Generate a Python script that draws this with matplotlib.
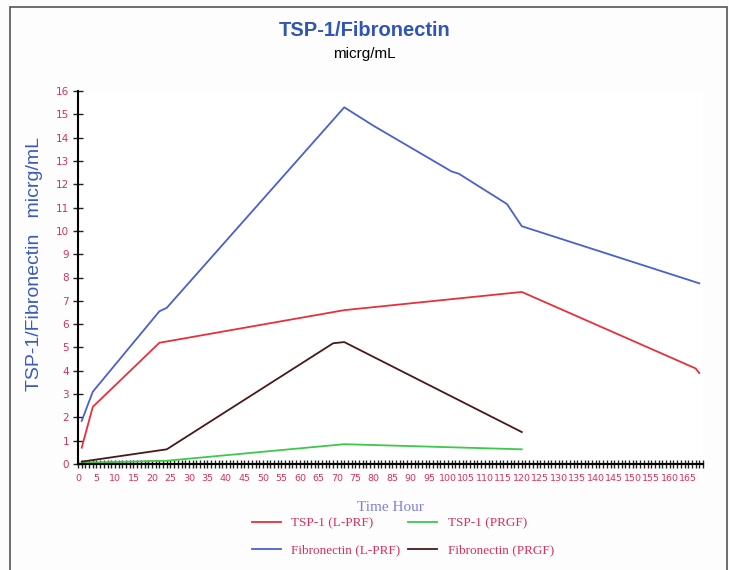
import matplotlib.pyplot as plt
from matplotlib.patches import Rectangle
from matplotlib.ticker import MultipleLocator

# Data (hours, micrg/mL)
hours_fib_lprf = [1, 4, 22, 24, 72, 80, 101, 103, 116, 120, 168]
fib_lprf = [1.85, 3.1, 6.55, 6.7, 15.3, 14.5, 12.55, 12.45, 11.15, 10.2, 7.75]

hours_tsp_lprf = [1, 4, 22, 72, 120, 167, 168]
tsp_lprf = [0.7, 2.45, 5.2, 6.6, 7.38, 4.1, 3.9]

hours_fib_prgf = [1, 24, 69, 72, 120]
fib_prgf = [0.1, 0.63, 5.18, 5.23, 1.37]

hours_tsp_prgf = [1, 24, 72, 120]
tsp_prgf = [0.05, 0.14, 0.85, 0.63]

red = '#e8303a'
blue = '#4a5fd0'
green = '#3cc94a'
brown = '#4a1818'
pink = '#d9305a'

fig = plt.figure(figsize=(7.29, 5.70), dpi=100)
fig.patches.append(Rectangle((10 / 729, -0.01), 717 / 729, 1 - 7 / 570 + 0.01,
                             transform=fig.transFigure, fill=False,
                             edgecolor='#555555', linewidth=1.2))

ax = fig.add_axes([78 / 729, 1 - 464 / 570, 625 / 729, 373 / 570])
# plot order chosen so the 2-column legend reads row by row like the original
ax.plot(hours_tsp_lprf, tsp_lprf, color=red, lw=1.3, label='TSP-1 (L-PRF)')
ax.plot(hours_fib_lprf, fib_lprf, color=blue, lw=1.3, label='Fibronectin (L-PRF)')
ax.plot(hours_tsp_prgf, tsp_prgf, color=green, lw=1.3, label='TSP-1 (PRGF)')
ax.plot(hours_fib_prgf, fib_prgf, color=brown, lw=1.3, label='Fibronectin (PRGF)')

ax.set_xlim(0, 169)
ax.set_ylim(0, 16)
ax.xaxis.set_major_locator(MultipleLocator(5))
ax.xaxis.set_minor_locator(MultipleLocator(1))
ax.yaxis.set_major_locator(MultipleLocator(1))
ax.tick_params(which='both', direction='inout', color='#222222', width=1)
ax.tick_params(axis='x', which='both', length=6)
ax.tick_params(axis='y', which='major', length=7)
ax.tick_params(axis='x', labelcolor=pink, labelsize=6.8, pad=4)
ax.tick_params(axis='y', labelcolor=pink, labelsize=7.5, pad=3)
for side in ['top', 'right']:
    ax.spines[side].set_visible(False)
ax.spines['left'].set_linewidth(1.5)
ax.spines['bottom'].set_linewidth(1.5)

ax.set_xlabel('Time Hour', family='Liberation Serif', color='#8080e0',
              fontsize=11, labelpad=13)
ax.set_ylabel('TSP-1/Fibronectin   micrg/mL', family='Liberation Sans',
              color='#3a5cc0', fontsize=14)
ax.yaxis.set_label_coords(-0.056, 0.536)

fig.text(0.5, 1 - 30 / 570, 'TSP-1/Fibronectin', ha='center', va='center',
         family='Liberation Sans', fontsize=14.5, fontweight='bold',
         color='#2f55b8')
fig.text(0.5, 1 - 54 / 570, 'micrg/mL', ha='center', va='center',
         family='Liberation Sans', fontsize=11, color='black')

leg = ax.legend(loc='upper center', bbox_to_anchor=(0.52, -0.11), ncol=2,
                frameon=False, prop={'family': 'Liberation Serif', 'size': 9.5},
                handlelength=2.2, columnspacing=0.6, labelspacing=1.15)
for t in leg.get_texts():
    t.set_color(pink)

fig.savefig('out.png', dpi=100, facecolor='#fdfdfd')
